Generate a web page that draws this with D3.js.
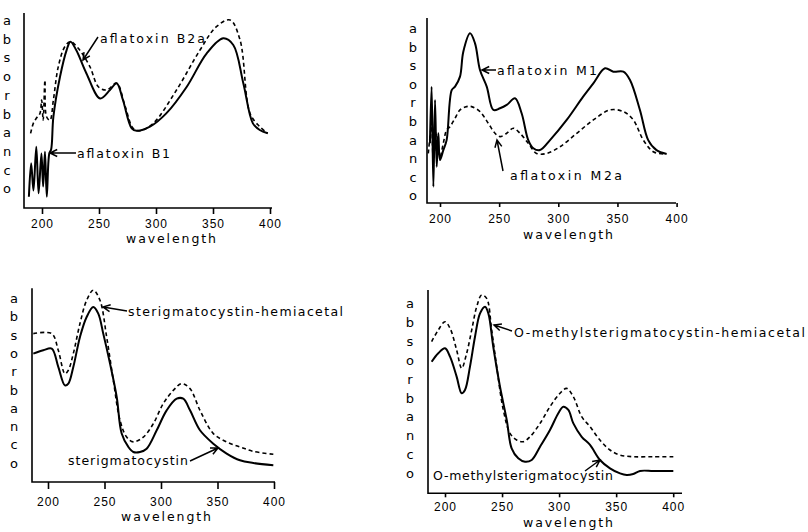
<!DOCTYPE html>
<html>
<head>
<meta charset="utf-8">
<script src="https://cdn.jsdelivr.net/npm/d3@7"></script>
<style>
  body { margin: 0; background: #fff; }
  svg { display: block; font-family: "DejaVu Sans", sans-serif; }
  .lbl { font-size: 12.5px; fill: #000; }
  .tick text { font-size: 12px; letter-spacing: 1px; fill: #000; }
</style>
</head>
<body>
<svg id="chart" width="808" height="532"></svg>
<script>
// ---- data (wavelength in nm, absorbance in arbitrary units 0-100) ----
const xTicks = [200, 250, 300, 350, 400];
const yLetters = ["a", "b", "s", "o", "r", "b", "a", "n", "c", "o"];

// aflatoxin B1 (solid) / B2a (dashed)
const b1Wl = [188.5, 190.5, 192.5, 195, 197, 199.5, 201, 202.6, 204.2, 206.4, 208, 210, 215.8, 221.6, 225, 230, 239, 251, 259.6, 265.5, 271, 278.7, 283, 294.7, 309, 327, 344.5, 359, 367.8, 376.6, 385, 391, 398];
const b1Abs = [5.8, 23, 9, 31.4, 7.5, 28, 11, 28.9, 5.8, 28, 30, 46.8, 67.3, 81, 85.3, 81, 69, 56.2, 60.5, 64, 55.4, 40.8, 39.6, 41.7, 48.5, 62.2, 79.3, 87, 83.6, 64, 43.4, 40, 38.3];
const b2aWl = [190, 192.4, 195, 198.2, 199.7, 201, 202.6, 204, 207, 210, 214.3, 220, 225, 231.8, 242, 249.4, 256.7, 265.5, 273, 280, 286, 297.6, 318, 338.6, 353, 365, 373.7, 382.5, 391, 398];
const b2aAbs = [38.3, 43.4, 46, 48.5, 55.4, 45, 65.6, 46.8, 45, 55.4, 72.5, 82.7, 85.3, 81.9, 72.5, 62.2, 60.5, 64, 52, 40.8, 39.6, 43.4, 60.5, 81, 93, 96.4, 86.2, 48.5, 41.7, 38.3];

// aflatoxin M1 (solid) / M2a (dashed)
const m1Wl = [191.5, 192.9, 194.4, 195.8, 197.2, 198.6, 200, 202.8, 205.6, 209.9, 212.7, 216.9, 219.7, 225.4, 229.6, 233.8, 239.5, 245.1, 250.7, 256.4, 263.4, 269, 274.6, 278.9, 284.5, 293, 307.1, 321, 329.6, 339.5, 346.5, 355, 360.6, 369, 376, 383, 391.6];
const m1Abs = [32.3, 62.9, 8.8, 55.7, 19.6, 37.7, 23.2, 28.6, 34, 61, 62.9, 68.3, 81.8, 91.7, 86.3, 71.9, 62.9, 50.3, 51.2, 53, 56.6, 48.5, 34, 29.6, 28.6, 34, 44.9, 57.5, 64.7, 72.8, 71, 71, 66.5, 50.3, 34, 28.6, 26.5];
const m2aWl = [190.1, 192.9, 194.4, 197.2, 200, 202.8, 205.6, 208.5, 212.7, 216.9, 222.5, 226.7, 233.8, 240.8, 246.5, 250.7, 256.4, 262, 267.6, 274.6, 281.7, 290.2, 301.4, 315.6, 329.6, 343.7, 355, 363.4, 371.9, 380.3, 388.8];
const m2aAbs = [26.8, 41.3, 23.2, 37.7, 25, 32.3, 39.5, 41.3, 45.8, 50.3, 52.1, 52.1, 49.4, 43.1, 37.7, 35.9, 37.7, 40.4, 37.7, 32.3, 26.8, 26.8, 30.4, 37.7, 44.9, 50.3, 49.4, 44.9, 34, 27.7, 26.5];

// sterigmatocystin (solid) / hemiacetal (dashed)
const stWl = [187, 195.8, 203.3, 209.1, 215, 218, 222.4, 228.3, 234.2, 240.1, 244.5, 248.9, 254.9, 260.8, 265.2, 271.1, 275.5, 281.4, 287.3, 296.2, 305, 313.9, 319.7, 325.7, 334.5, 346.3, 358.1, 369.9, 381.7, 399.4];
const stAbs = [66.3, 68, 68.9, 59.4, 49.9, 50.8, 59.4, 74.9, 85.2, 90.3, 86.9, 76.6, 61.1, 43.9, 25, 18.1, 15.5, 15.5, 17.2, 26.7, 37, 43, 43, 37, 26.7, 19.8, 14.7, 11.2, 9.8, 8.6];
const sthWl = [187, 203.3, 209.1, 215, 218, 222.4, 228.3, 234.2, 240.1, 246, 251.9, 257.8, 263.7, 269.6, 275.5, 284.4, 293.2, 302, 310.9, 318.3, 325.7, 334.5, 346.3, 358.1, 369.9, 381.7, 399.4];
const sthAbs = [76.6, 76.6, 68, 55.9, 57.7, 66.3, 81.8, 93.8, 99, 93.8, 74.9, 52.5, 31.9, 23.2, 20.7, 23.2, 30.1, 40.5, 47.3, 50.8, 48.2, 37, 25, 20.7, 18.1, 15.8, 14.3];

// O-methylsterigmatocystin (solid) / hemiacetal (dashed)
const omWl = [188.3, 194.1, 200, 204.4, 210.2, 214.6, 217.5, 221.9, 226.3, 230.7, 235.1, 238, 242.3, 248.2, 254.1, 258.4, 264.2, 270.1, 276, 283.3, 292, 299.3, 303.7, 308.1, 312.5, 319.8, 327.1, 335.8, 344.6, 353.4, 359.2, 365, 370.9, 382.6, 400.1];
const omAbs = [64.7, 68.9, 71.3, 67.2, 57.4, 49.2, 50.8, 62.3, 77, 88.5, 91.8, 88.5, 72.1, 52.4, 36.1, 22.1, 17.2, 15.5, 16.4, 22.9, 31.1, 39.4, 42.6, 41, 34.4, 27.8, 23.8, 16.4, 12.3, 9.8, 9, 9.5, 11, 11, 11];
const omhWl = [188.3, 194.1, 200, 204.4, 210.2, 214.6, 219, 223.4, 227.8, 232.1, 236.5, 240.9, 245.3, 251.1, 257, 262.8, 268.6, 274.5, 283.3, 292, 300.8, 306.6, 312.5, 319.8, 327.1, 335.8, 344.6, 353.4, 365, 382.6, 400.1];
const omhAbs = [74.6, 80.3, 84.4, 81.2, 70.5, 61.5, 68.9, 80.3, 91.8, 97.5, 95.9, 80.3, 62.3, 41, 29.5, 26.2, 25.4, 27.8, 34.4, 42.6, 49.2, 51.6, 47.5, 37.7, 32.8, 26.2, 21.3, 18.8, 18, 18, 18];

// ---- layout ----
const panels = [
  { xr: [42, 270], yr: [208, 13], axL: 24, axR: 272, letX: 7, letY0: 25, letDy: 18.7,
    tickLen: 6, tickPad: 5, wlX: 171, wlY: 243,
    solid: [b1Wl, b1Abs], dashed: [b2aWl, b2aAbs],
    labels: [
      { t: "aflatoxin B2a", x: 100, y: 43, w: 105, a: [98, 37, 83, 60] },
      { t: "aflatoxin B1", x: 77, y: 158, w: 93, a: [76, 153, 50, 153] }
    ] },
  { xr: [440, 676.6], yr: [203, 18], axL: 427, axR: 676, letX: 413, letY0: 33, letDy: 18.6,
    tickLen: 4, tickPad: 7.5, wlX: 568, wlY: 239,
    solid: [m1Wl, m1Abs], dashed: [m2aWl, m2aAbs],
    labels: [
      { t: "aflatoxin M1", x: 497, y: 75, w: 100, a: [496, 70, 482, 70] },
      { t: "aflatoxin M2a", x: 510, y: 180, w: 112, a: [503, 171, 497, 140] }
    ] },
  { xr: [48, 274], yr: [482, 288.3], axL: 32, axR: 275, letX: 14, letY0: 303, letDy: 18.3,
    tickLen: 7, tickPad: 8.5, wlX: 166, wlY: 521,
    solid: [stWl, stAbs], dashed: [sthWl, sthAbs],
    labels: [
      { t: "sterigmatocystin-hemiacetal", x: 128, y: 316, w: 215, a: [127, 311, 103, 307] },
      { t: "sterigmatocystin", x: 68, y: 465, w: 120, a: [190, 461, 218, 448] }
    ] },
  { xr: [445, 673.2], yr: [493.3, 290], axL: 428, axR: 682, letX: 410, letY0: 308, letDy: 18.9,
    tickLen: 4, tickPad: 5.5, wlX: 568, wlY: 527,
    solid: [omWl, omAbs], dashed: [omhWl, omhAbs],
    labels: [
      { t: "O-methylsterigmatocystin-hemiacetal", x: 514, y: 337, w: 291, a: [512, 331, 494, 325] },
      { t: "O-methylsterigmatocystin", x: 433, y: 480, w: 180, a: [585, 471, 600, 460] }
    ] }
];

const svg = d3.select("#chart");

function arrow(g, [x1, y1, x2, y2]) {
  const ang = Math.atan2(y2 - y1, x2 - x1);
  const L = 8, s = 0.45;
  const h1 = [x2 - L * Math.cos(ang - s), y2 - L * Math.sin(ang - s)];
  const h2 = [x2 - L * Math.cos(ang + s), y2 - L * Math.sin(ang + s)];
  g.append("path")
    .attr("d", `M${x1},${y1}L${x2},${y2}M${h1[0]},${h1[1]}L${x2},${y2}L${h2[0]},${h2[1]}`)
    .attr("fill", "none")
    .attr("stroke", "#000")
    .attr("stroke-width", 1.5);
}

panels.forEach(p => {
  const g = svg.append("g");
  const x = d3.scaleLinear().domain([200, 400]).range(p.xr);
  const y = d3.scaleLinear().domain([0, 100]).range(p.yr);
  const y0 = y(0);

  // axes frame
  g.append("path")
    .attr("d", `M${p.axL},${p.yr[1]}L${p.axL},${y0}L${p.axR},${y0}`)
    .attr("fill", "none")
    .attr("stroke", "#000")
    .attr("stroke-width", 1.6);

  const ax = g.append("g")
    .attr("transform", `translate(0,${y0})`)
    .call(d3.axisBottom(x).tickValues(xTicks).tickSize(p.tickLen).tickPadding(p.tickPad));
  ax.select(".domain").remove();
  ax.selectAll(".tick line").attr("stroke", "#000").attr("stroke-width", 1.6);

  g.append("text")
    .attr("class", "lbl")
    .attr("x", p.wlX)
    .attr("y", p.wlY)
    .attr("text-anchor", "middle")
    .attr("textLength", 90)
    .attr("lengthAdjust", "spacing")
    .text("wavelength");

  // vertical "absorbance" letters
  g.selectAll(".let")
    .data(yLetters)
    .enter()
    .append("text")
    .attr("class", "lbl")
    .attr("x", p.letX)
    .attr("y", (d, i) => p.letY0 + i * p.letDy)
    .attr("text-anchor", "middle")
    .style("font-size", "13px")
    .text(d => d);

  const line = d3.line()
    .x(d => x(d[0]))
    .y(d => y(d[1]))
    .curve(d3.curveCatmullRom.alpha(0.5));

  g.append("path")
    .attr("d", line(d3.zip(p.dashed[0], p.dashed[1])))
    .attr("fill", "none")
    .attr("stroke", "#000")
    .attr("stroke-width", 1.6)
    .attr("stroke-dasharray", "4,3");

  g.append("path")
    .attr("d", line(d3.zip(p.solid[0], p.solid[1])))
    .attr("fill", "none")
    .attr("stroke", "#000")
    .attr("stroke-width", 2);

  p.labels.forEach(l => {
    g.append("text")
      .attr("class", "lbl")
      .attr("x", l.x)
      .attr("y", l.y)
      .attr("textLength", l.w)
      .attr("lengthAdjust", "spacing")
      .text(l.t);
    arrow(g, l.a);
  });
});
</script>
</body>
</html>
